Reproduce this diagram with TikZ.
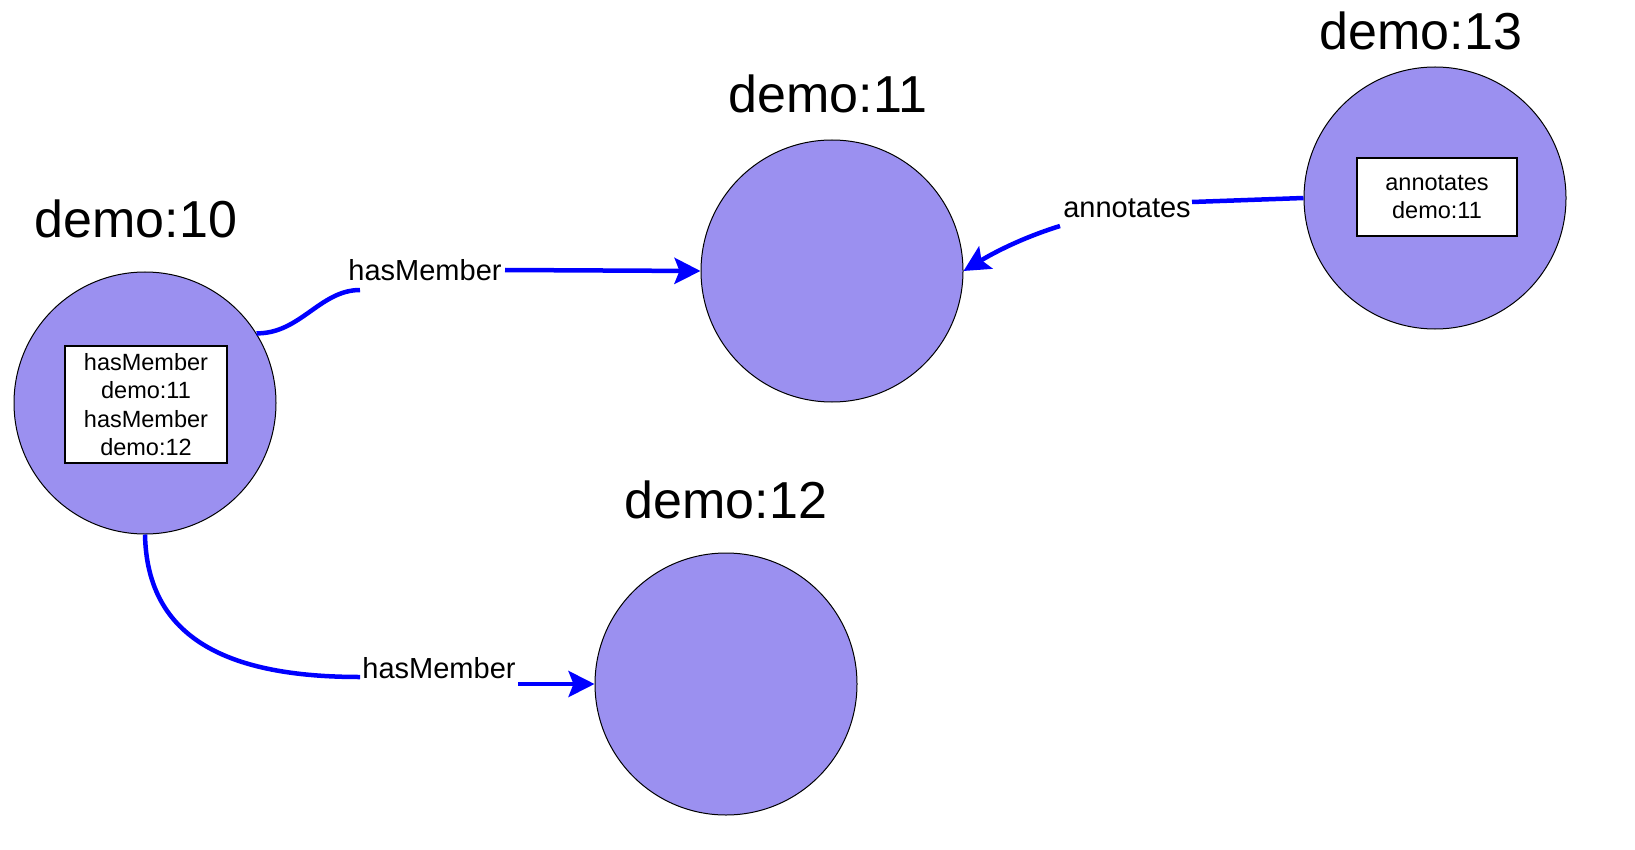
\documentclass[tikz,border=0pt]{standalone}
\usepackage{fontspec}
\setmainfont{Liberation Sans}
\usetikzlibrary{arrows.meta}
\definecolor{nodefill}{RGB}{155,144,240}
\definecolor{edgeblue}{RGB}{0,0,255}
\begin{document}
\begin{tikzpicture}[x=1pt,y=-1pt,
  res/.style={circle,draw=black,line width=1pt,fill=nodefill,minimum size=262pt,inner sep=0pt},
  title/.style={font=\fontsize{52}{60}\selectfont,inner sep=0pt,anchor=base},
  info/.style={draw=black,fill=white,line width=1.5pt,align=center,font=\fontsize{23.5}{28.5}\selectfont,inner sep=0pt},
  elabel/.style={font=\fontsize{29}{34}\selectfont,inner sep=0pt,anchor=base},
  edge/.style={draw=edgeblue,line width=4.5pt},
  arr/.style={-{Stealth[length=26pt,width=26pt,inset=5pt]}}
]
\useasboundingbox (0,0) rectangle (1635,850);
\fill[white] (0,0) rectangle (1635,850);

% resources
\node[res] (n10) at (145,403) {};
\node[res] (n11) at (832,271) {};
\node[res] (n12) at (726,684) {};
\node[res] (n13) at (1435,198) {};

% titles
\node[title] (t10) at (136,238) {demo:10};
\node[title] (t11) at (828,113) {demo:11};
\node[title] (t12) at (726,518) {demo:12};
\node[title] (t13) at (1421,50) {demo:13};

% info boxes
\node[info,minimum width=162pt,minimum height=117pt] (b10) at (146,404.5)
  {hasMember\\demo:11\\hasMember\\demo:12};
\node[info,minimum width=160pt,minimum height=78pt] (b13) at (1437,197)
  {annotates\\demo:11};

% edge labels
\node[elabel] (l1) at (425,280) {hasMember};
\node[elabel] (l2) at (439,678) {hasMember};
\node[elabel] (l3) at (1127,218) {annotates};

% edge break points
\coordinate (e1a) at (360,290);
\coordinate (e1b) at (505,270);
\coordinate (e2a) at (360,677);
\coordinate (e2b) at (518,684);
\coordinate (e3a) at (1192,202);
\coordinate (e3b) at (1060,226);

% edges
\draw[edge] (n10.32) .. controls (300,334) and (320,290) .. (e1a);
\draw[edge,arr] (e1b) -- (n11.west);
\draw[edge] (n10.south) .. controls (147,640) and (230,677) .. (e2a);
\draw[edge,arr] (e2b) -- (n12.west);
\draw[edge] (n13.west) -- (e3a);
\draw[edge,arr] (e3b) .. controls (1015,240) and (985,258) .. (n11.east);
\end{tikzpicture}
\end{document}
